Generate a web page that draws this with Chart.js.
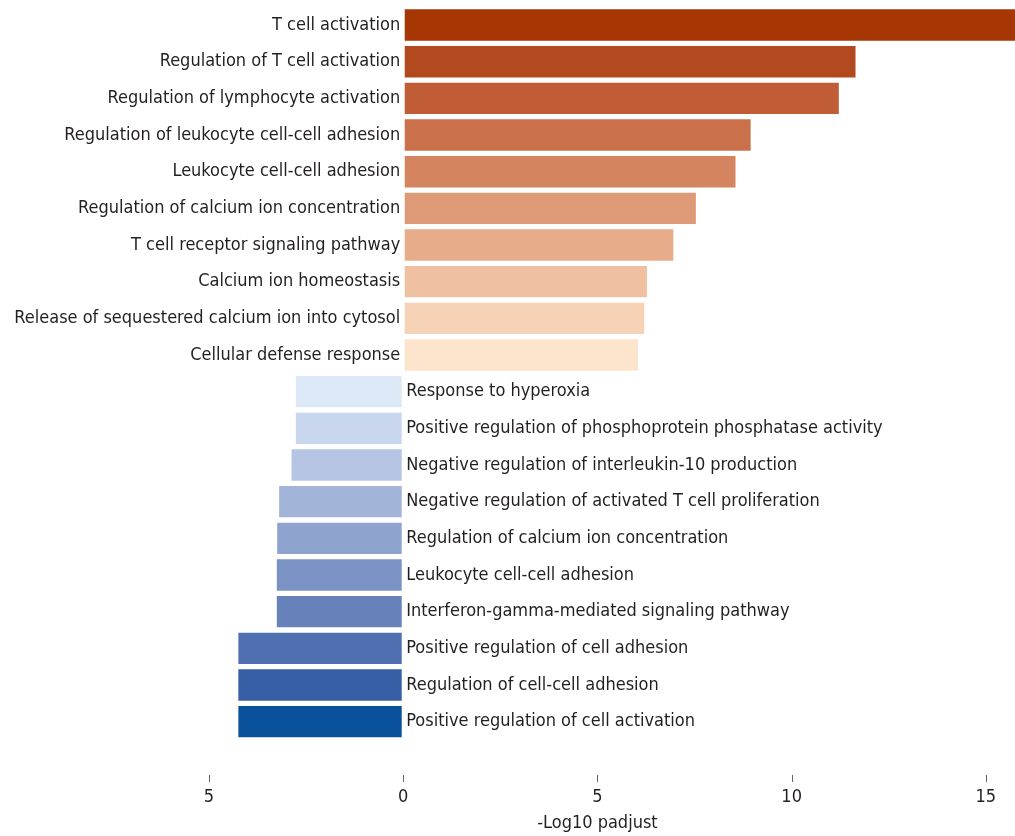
<!DOCTYPE html>
<html>
<head>
<meta charset="utf-8">
<script src="https://cdn.jsdelivr.net/npm/chart.js@4.4.1/dist/chart.umd.min.js"></script>
<style>
  html, body { margin: 0; padding: 0; background: #ffffff; overflow: hidden; }
  #wrap { width: 1015px; height: 836px; position: relative; }
</style>
</head>
<body>
<div id="wrap"><canvas id="chart"></canvas></div>
<script>
// GO terms, top to bottom: enriched in the up-regulated set (positive) then the down-regulated set (negative)
const terms = [
  "T cell activation",
  "Regulation of T cell activation",
  "Regulation of lymphocyte activation",
  "Regulation of leukocyte cell-cell adhesion",
  "Leukocyte cell-cell adhesion",
  "Regulation of calcium ion concentration",
  "T cell receptor signaling pathway",
  "Calcium ion homeostasis",
  "Release of sequestered calcium ion into cytosol",
  "Cellular defense response",
  "Response to hyperoxia",
  "Positive regulation of phosphoprotein phosphatase activity",
  "Negative regulation of interleukin-10 production",
  "Negative regulation of activated T cell proliferation",
  "Regulation of calcium ion concentration",
  "Leukocyte cell-cell adhesion",
  "Interferon-gamma-mediated signaling pathway",
  "Positive regulation of cell adhesion",
  "Regulation of cell-cell adhesion",
  "Positive regulation of cell activation"
];

// -Log10 adjusted p-values (down-regulated terms plotted as negative)
const upValues = [16.2, 11.67, 11.24, 8.97, 8.58, 7.56, 6.98, 6.30, 6.23, 6.07];
const downValues = [-2.79, -2.79, -2.90, -3.22, -3.27, -3.28, -3.28, -4.27, -4.27, -4.27];
const values = upValues.concat(downValues);

const xTickValues = [-5, 0, 5, 10, 15];
const xTitle = "-Log10 padjust";

const upColors = ["#a63603", "#b34a1f", "#c05d36", "#ca714b", "#d4855f", "#de9a76", "#e7ad8b", "#efc1a0", "#f6d3b7", "#fde5cd"];
const downColors = ["#dde9f6", "#c8d7ee", "#b5c4e2", "#a3b4d9", "#8fa3cf", "#7b92c5", "#6782bb", "#4f6fb0", "#365ea4", "#0a519b"];

const FONT = "'DejaVu Sans Condensed', 'DejaVu Sans', sans-serif";
const TEXT = "#231f20";

// term names sit next to the zero line: left of it for positive bars, right of it for negative bars
const termLabels = {
  id: "termLabels",
  afterDatasetsDraw(chart) {
    const { ctx, scales: { x, y } } = chart;
    const x0 = x.getPixelForValue(0);
    ctx.save();
    ctx.font = "18px " + FONT;
    ctx.fillStyle = TEXT;
    ctx.textBaseline = "middle";
    terms.forEach((t, i) => {
      const py = y.getPixelForValue(i);
      if (values[i] >= 0) {
        ctx.textAlign = "right";
        ctx.fillText(t, x0 - 3, py);
      } else {
        ctx.textAlign = "left";
        ctx.fillText(t, x0 + 3, py);
      }
    });
    ctx.restore();
  }
};

// small detached tick marks and the axis title under the plot
const axisDecor = {
  id: "axisDecor",
  afterDraw(chart) {
    const { ctx, chartArea, scales: { x } } = chart;
    ctx.save();
    ctx.strokeStyle = "#666666";
    ctx.lineWidth = 1;
    xTickValues.forEach(v => {
      const px = Math.round(x.getPixelForValue(v)) + 0.5;
      ctx.beginPath();
      ctx.moveTo(px, chartArea.bottom + 35);
      ctx.lineTo(px, chartArea.bottom + 42);
      ctx.stroke();
    });
    ctx.font = "18px " + FONT;
    ctx.fillStyle = TEXT;
    ctx.textAlign = "center";
    ctx.textBaseline = "middle";
    const cx = (x.getPixelForValue(-5) + x.getPixelForValue(15)) / 2;
    ctx.fillText(xTitle, cx, chartArea.bottom + 83);
    ctx.restore();
  }
};

new Chart(document.getElementById("chart"), {
  type: "bar",
  data: {
    labels: terms,
    datasets: [{
      data: values,
      backgroundColor: upColors.concat(downColors),
      borderColor: "rgba(255,255,255,0.55)",
      borderWidth: 1,
      borderSkipped: false,
      barPercentage: 1,
      categoryPercentage: 0.91
    }]
  },
  options: {
    indexAxis: "y",
    responsive: true,
    maintainAspectRatio: false,
    animation: false,
    layout: { padding: { left: 209, right: 0, top: 6.7, bottom: 0 } },
    plugins: {
      legend: { display: false },
      tooltip: { enabled: false }
    },
    scales: {
      y: { display: false },
      x: {
        min: -5,
        max: 15.75,
        grid: {
          display: true,
          drawOnChartArea: false,
          drawTicks: true,
          tickLength: 44,
          color: "rgba(0,0,0,0)"
        },
        border: { display: false },
        afterBuildTicks(scale) {
          scale.ticks = xTickValues.map(v => ({ value: v }));
        },
        afterFit(scale) { scale.height = 96; },
        ticks: {
          padding: 3,
          maxRotation: 0,
          autoSkip: false,
          color: TEXT,
          font: { family: FONT, size: 18 },
          callback: v => String(Math.abs(v))
        }
      }
    }
  },
  plugins: [termLabels, axisDecor]
});
</script>
</body>
</html>
